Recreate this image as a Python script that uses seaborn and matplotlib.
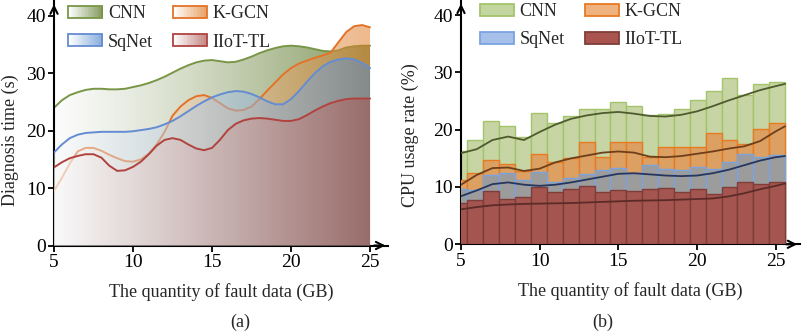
import numpy as np
import matplotlib
matplotlib.use("Agg")
import matplotlib.pyplot as plt
import matplotlib.colors as mcolors
from matplotlib.patches import Rectangle, Patch
from matplotlib.legend_handler import HandlerBase
import seaborn as sns

# ---------------- data ----------------
models = ["CNN", "K-GCN", "SqNet", "IIoT-TL"]

# (a) diagnosis time (s), read every 0.5 GB from 5 to 25
gb = np.arange(5, 25.5, 0.5)
time_cnn = [24.0, 25.3, 26.2, 26.7, 27.1, 27.3, 27.3, 27.2, 27.2, 27.3,
            27.6, 27.9, 28.3, 28.8, 29.4, 30.1, 30.8, 31.4, 31.9, 32.2,
            32.3, 32.1, 31.9, 32.0, 32.4, 32.9, 33.5, 34.0, 34.4, 34.7,
            34.8, 34.7, 34.5, 34.2, 33.9, 33.8, 34.0, 34.5, 34.7, 34.8, 34.8]
time_kgcn = [9.5, 11.8, 14.3, 16.4, 17.0, 17.0, 16.5, 15.8, 15.2, 14.7,
             14.6, 15.0, 16.0, 17.6, 19.8, 22.6, 24.2, 25.3, 26.0, 26.2,
             25.7, 24.8, 23.9, 23.5, 23.6, 24.2, 25.5, 27.0, 28.4, 29.8,
             30.9, 31.7, 32.2, 32.7, 33.1, 33.6, 35.4, 37.2, 38.2, 38.4, 38.0]
time_sqnet = [16.2, 17.6, 18.7, 19.3, 19.6, 19.7, 19.8, 19.8, 19.8, 19.8,
              19.9, 20.1, 20.3, 20.6, 21.1, 21.7, 22.5, 23.4, 24.3, 25.1,
              25.8, 26.3, 26.7, 26.9, 26.8, 26.4, 25.8, 25.1, 24.6, 24.6,
              25.5, 26.9, 28.5, 30.0, 31.2, 32.0, 32.4, 32.6, 32.4, 31.8, 30.9]
time_iiot = [13.6, 14.5, 15.2, 15.6, 15.9, 15.9, 15.3, 13.9, 13.0, 13.1,
             13.7, 14.6, 15.9, 17.4, 18.4, 18.7, 18.4, 17.6, 16.9, 16.6,
             17.0, 18.4, 20.1, 21.2, 21.8, 22.1, 22.2, 22.1, 21.9, 21.7,
             21.7, 22.0, 22.7, 23.5, 24.2, 24.8, 25.2, 25.5, 25.6, 25.6, 25.6]

# (b) CPU usage rate (%), 21 bins
bin_edges = np.linspace(4.4, 25.6, 22)
bin_centers = (bin_edges[:-1] + bin_edges[1:]) / 2
cpu_cnn = [16.3, 18.2, 21.5, 20.6, 18.8, 23.0, 21.1, 22.4, 23.6, 23.6, 24.9,
           24.1, 22.5, 22.8, 23.7, 25.2, 26.8, 29.1, 26.1, 27.9, 28.3]
cpu_kgcn = [11.2, 12.5, 14.7, 14.0, 12.8, 15.7, 14.4, 15.0, 17.9, 15.3, 17.8,
            17.8, 15.3, 16.9, 16.9, 17.0, 19.4, 18.2, 17.5, 20.2, 21.1]
cpu_sqnet = [9.7, 9.5, 12.1, 12.5, 11.2, 12.7, 10.8, 11.5, 12.3, 13.0, 13.4,
             12.4, 13.8, 13.1, 13.0, 13.5, 13.1, 14.4, 15.7, 15.3, 15.6]
cpu_iiot = [7.15, 7.8, 9.3, 7.9, 8.2, 9.95, 9.1, 9.6, 10.2, 9.1, 9.5,
            9.3, 9.65, 9.8, 9.1, 9.6, 8.7, 10.0, 10.9, 10.6, 10.8]

# smooth trend lines over the bars
trend_x = [5, 6, 7, 8, 9, 10, 11, 12, 13, 14, 15, 16, 17, 18, 19, 20,
           21, 22, 23, 24, 25, 25.6]
trend_cnn = [15.9, 16.6, 18.2, 18.8, 18.2, 19.6, 20.9, 21.9, 22.5, 22.9, 23.1,
             22.8, 22.4, 22.3, 22.6, 23.2, 24.1, 25.1, 26.0, 26.9, 27.6, 28.0]
trend_kgcn = [10.4, 12.1, 13.3, 13.4, 12.8, 13.2, 14.3, 15.0, 15.5, 16.0, 16.2,
              16.0, 15.3, 15.2, 15.4, 15.8, 16.2, 16.7, 17.1, 18.0, 19.7, 20.6]
trend_sqnet = [8.4, 9.4, 10.5, 10.8, 10.4, 10.2, 10.4, 10.8, 11.3, 11.8, 12.3,
               12.4, 12.2, 12.0, 11.9, 12.0, 12.4, 13.0, 13.8, 14.6, 15.2, 15.4]
trend_iiot = [6.1, 6.5, 6.8, 6.95, 7.05, 7.1, 7.15, 7.2, 7.3, 7.4, 7.5,
              7.6, 7.65, 7.7, 7.8, 7.9, 8.0, 8.35, 8.9, 9.6, 10.2, 10.6]

# ---------------- style ----------------
sns.set_style("ticks")
plt.rcParams["font.family"] = ["Liberation Serif", "DejaVu Serif"]
FS = 13
TICK_FS = 14

line_cols = ["#789646", "#E4732A", "#648CD2", "#B0433E"]
fill_cols = ["#55731F", "#DF7B26", "#598CCE", "#AC5350"]
fill_alpha = [(0.45, 0.72), (0.45, 0.53), (0.45, 0.53), (0.45, 0.53)]

bar_fc = ["#C6D5A3", "#DBA062", "#9C9C9C", "#A4554F"]
bar_ec = ["#A3C46A", "#E87A22", "#7BA3E0", "#7F3D39"]
leg_fc = ["#C4D6A0", "#F0B27E", "#A7C0EA", "#A9544E"]
trend_cols = ["#4E5B2C", "#6E3F1A", "#26375F", "#5C2B28"]

# legend fills column by column: put the two rows in that order
leg_order = [0, 2, 1, 3]


class GradientHandler(HandlerBase):
    def __init__(self, color, edge):
        super().__init__()
        self.rgb = np.array(mcolors.to_rgb(color))
        self.edge = edge

    def create_artists(self, legend, orig_handle, xdescent, ydescent,
                       width, height, fontsize, trans):
        n = 24
        arts = []
        for i in range(n):
            f = i / (n - 1)
            c = (1 - f) * np.ones(3) + f * (0.3 + 0.7 * self.rgb)
            r = Rectangle((-xdescent + i * width / n, -ydescent), width / n + 0.3,
                          height, facecolor=np.clip(c, 0, 1), edgecolor="none",
                          transform=trans)
            arts.append(r)
        arts.append(Rectangle((-xdescent, -ydescent), width, height,
                              facecolor="none", edgecolor=self.edge, lw=1.3,
                              transform=trans))
        return arts


def style_axes(ax, xlim, ylim):
    ax.set_xlim(*xlim)
    ax.set_ylim(*ylim)
    ax.set_xticks([5, 10, 15, 20, 25])
    ax.set_yticks([0, 10, 20, 30, 40])
    for s in ["top", "right"]:
        ax.spines[s].set_visible(False)
    for s in ["left", "bottom"]:
        ax.spines[s].set_linewidth(1.5)
        ax.spines[s].set_color("black")
    ax.tick_params(direction="out", length=4, width=1.3, labelsize=TICK_FS,
                   colors="black", pad=2)
    arrow = dict(arrowstyle="->", color="black", lw=1.5, mutation_scale=13)
    ax.annotate("", xy=(1.0, 0), xytext=(0.95, 0), xycoords="axes fraction",
                arrowprops=arrow, annotation_clip=False)
    ax.annotate("", xy=(0, 1.0), xytext=(0, 0.95), xycoords="axes fraction",
                arrowprops=arrow, annotation_clip=False)
    ax.set_xlabel("The quantity of fault data (GB)", fontsize=FS, labelpad=9)


fig = plt.figure(figsize=(8.03, 3.32), dpi=100)
ax1 = fig.add_axes([0.06725, 0.2605, 0.4162, 0.735])
ax2 = fig.add_axes([0.5741, 0.2642, 0.4222, 0.7334])

# ---------------- (a) ----------------
series_a = [time_cnn, time_kgcn, time_sqnet, time_iiot]
t = np.linspace(0, 1, 256)
for k, (vals, fc, lc, (a0, a1)) in enumerate(zip(series_a, fill_cols,
                                                  line_cols, fill_alpha)):
    y = np.array(vals)
    poly = ax1.fill_between(gb, 0, y, facecolor="none", edgecolor="none")
    rgb = np.array(mcolors.to_rgb(fc))
    grad = np.zeros((1, 256, 4))
    grad[0, :, :3] = (1 - t)[:, None] * 0.98 + t[:, None] * rgb
    grad[0, :, 3] = a0 + (a1 - a0) * t
    im = ax1.imshow(grad, extent=[gb.min(), gb.max(), 0, y.max()],
                    origin="lower", aspect="auto", interpolation="bilinear",
                    zorder=2 + k)
    im.set_clip_path(poly.get_paths()[0], transform=ax1.transData)
    sns.lineplot(x=gb, y=y, ax=ax1, color=lc, lw=1.4, zorder=2.5 + k)

style_axes(ax1, (5, 26.15), (0, 42.5))
ax1.set_ylabel("Diagnosis time (s)", fontsize=FS)
ax1.yaxis.set_label_coords(-0.106, 0.432)

handles_a = [Patch() for _ in models]
ax1.legend([handles_a[i] for i in leg_order], [models[i] for i in leg_order],
           ncol=2, frameon=False, fontsize=FS,
           loc="upper left", bbox_to_anchor=(0.042, 0.984), borderaxespad=0,
           borderpad=0, handlelength=1.9, handleheight=0.6, handletextpad=0.3,
           columnspacing=1.1, labelspacing=0.62,
           handler_map={h: GradientHandler(c, e) for h, c, e in
                        zip(handles_a, fill_cols, line_cols)})

# ---------------- (b) ----------------
series_b = [cpu_cnn, cpu_kgcn, cpu_sqnet, cpu_iiot]
for k, (vals, fc, ec) in enumerate(zip(series_b, bar_fc, bar_ec)):
    sns.histplot(x=list(bin_centers), weights=vals, bins=list(bin_edges), ax=ax2,
                 color=fc, edgecolor=ec, alpha=1, linewidth=1.0, zorder=2 + k)

for k, (vals, c) in enumerate(zip([trend_cnn, trend_kgcn, trend_sqnet, trend_iiot],
                                  trend_cols)):
    sns.lineplot(x=trend_x, y=vals, ax=ax2, color=c, lw=1.3, zorder=7 + k)

style_axes(ax2, (5, 26.55), (0, 42.5))
ax2.set_ylabel("CPU usage rate (%)", fontsize=FS)
ax2.yaxis.set_label_coords(-0.124, 0.45)

handles_b = [Patch(facecolor=f, edgecolor=e, lw=1.3) for f, e in zip(leg_fc, bar_ec)]
ax2.legend([handles_b[i] for i in leg_order], [models[i] for i in leg_order],
           ncol=2, frameon=False, fontsize=FS,
           loc="upper left", bbox_to_anchor=(0.056, 0.99), borderaxespad=0,
           borderpad=0, handlelength=1.9, handleheight=0.6, handletextpad=0.3,
           columnspacing=1.1, labelspacing=0.62)

fig.text(240 / 803, 1 - 322 / 332, "(a)", fontsize=FS, ha="center", va="center")
fig.text(603 / 803, 1 - 322 / 332, "(b)", fontsize=FS, ha="center", va="center")

fig.savefig("out.png", dpi=100)
